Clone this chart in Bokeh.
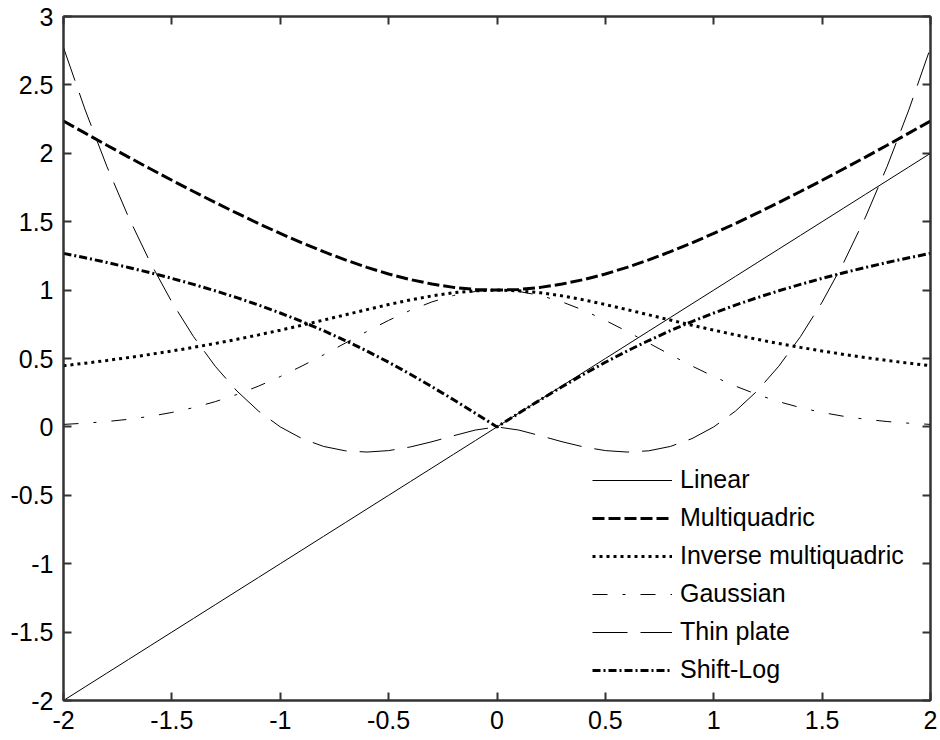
from bokeh.plotting import figure
from bokeh.models import Range1d, FixedTicker, LinearAxis, Legend, LegendItem, CustomJSTickFormatter
from bokeh.embed import file_html
from bokeh.resources import INLINE

x = [-2.0, -1.9, -1.8, -1.7, -1.6, -1.5, -1.4, -1.3, -1.2, -1.1, -1.0,
     -0.9, -0.8, -0.7, -0.6, -0.5, -0.4, -0.3, -0.2, -0.1, 0.0,
     0.1, 0.2, 0.3, 0.4, 0.5, 0.6, 0.7, 0.8, 0.9, 1.0,
     1.1, 1.2, 1.3, 1.4, 1.5, 1.6, 1.7, 1.8, 1.9, 2.0]

linear = [-2.0, -1.9, -1.8, -1.7, -1.6, -1.5, -1.4, -1.3, -1.2, -1.1, -1.0,
          -0.9, -0.8, -0.7, -0.6, -0.5, -0.4, -0.3, -0.2, -0.1, 0.0,
          0.1, 0.2, 0.3, 0.4, 0.5, 0.6, 0.7, 0.8, 0.9, 1.0,
          1.1, 1.2, 1.3, 1.4, 1.5, 1.6, 1.7, 1.8, 1.9, 2.0]

multiquadric = [2.2361, 2.1471, 2.0591, 1.9723, 1.8868, 1.8028, 1.7205, 1.6401, 1.5620, 1.4866, 1.4142,
                1.3454, 1.2806, 1.2207, 1.1662, 1.1180, 1.0770, 1.0440, 1.0198, 1.0050, 1.0000,
                1.0050, 1.0198, 1.0440, 1.0770, 1.1180, 1.1662, 1.2207, 1.2806, 1.3454, 1.4142,
                1.4866, 1.5620, 1.6401, 1.7205, 1.8028, 1.8868, 1.9723, 2.0591, 2.1471, 2.2361]

inverse_mq = [0.4472, 0.4657, 0.4856, 0.5070, 0.5300, 0.5547, 0.5812, 0.6097, 0.6402, 0.6727, 0.7071,
              0.7433, 0.7809, 0.8192, 0.8575, 0.8944, 0.9285, 0.9578, 0.9806, 0.9950, 1.0000,
              0.9950, 0.9806, 0.9578, 0.9285, 0.8944, 0.8575, 0.8192, 0.7809, 0.7433, 0.7071,
              0.6727, 0.6402, 0.6097, 0.5812, 0.5547, 0.5300, 0.5070, 0.4856, 0.4657, 0.4472]

gaussian = [0.0183, 0.0271, 0.0392, 0.0556, 0.0773, 0.1054, 0.1409, 0.1845, 0.2369, 0.2982, 0.3679,
            0.4449, 0.5273, 0.6126, 0.6977, 0.7788, 0.8521, 0.9139, 0.9608, 0.9900, 1.0000,
            0.9900, 0.9608, 0.9139, 0.8521, 0.7788, 0.6977, 0.6126, 0.5273, 0.4449, 0.3679,
            0.2982, 0.2369, 0.1845, 0.1409, 0.1054, 0.0773, 0.0556, 0.0392, 0.0271, 0.0183]

thin_plate = [2.7726, 2.3171, 1.9044, 1.5335, 1.2032, 0.9123, 0.6595, 0.4434, 0.2625, 0.1153, 0.0,
              -0.0853, -0.1428, -0.1748, -0.1839, -0.1733, -0.1466, -0.1084, -0.0644, -0.0230, 0.0,
              -0.0230, -0.0644, -0.1084, -0.1466, -0.1733, -0.1839, -0.1748, -0.1428, -0.0853, 0.0,
              0.1153, 0.2625, 0.4434, 0.6595, 0.9123, 1.2032, 1.5335, 1.9044, 2.3171, 2.7726]

shift_log = [1.2686, 1.2362, 1.2019, 1.1655, 1.1268, 1.0857, 1.0417, 0.9948, 0.9445, 0.8905, 0.8326,
             0.7703, 0.7034, 0.6315, 0.5545, 0.4724, 0.3853, 0.2936, 0.1980, 0.0998, 0.0,
             0.0998, 0.1980, 0.2936, 0.3853, 0.4724, 0.5545, 0.6315, 0.7034, 0.7703, 0.8326,
             0.8905, 0.9445, 0.9948, 1.0417, 1.0857, 1.1268, 1.1655, 1.2019, 1.2362, 1.2686]

series_names = ["Linear", "Multiquadric", "Inverse multiquadric", "Gaussian", "Thin plate", "Shift-Log"]
x_ticks = [-2, -1.5, -1, -0.5, 0, 0.5, 1, 1.5, 2]
y_ticks = [-2, -1.5, -1, -0.5, 0, 0.5, 1, 1.5, 2, 2.5, 3]

FONT = "Liberation Sans"
AX = "#333333"

p = figure(width=940, height=740, output_backend="svg", toolbar_location=None,
           x_range=Range1d(-2, 2), y_range=Range1d(-2, 3),
           min_border_left=63, min_border_right=10, min_border_top=16, min_border_bottom=40)
p.xgrid.visible = False
p.ygrid.visible = False
p.outline_line_color = AX
p.outline_line_width = 2
p.background_fill_color = "white"
p.border_fill_color = "white"

fmt = CustomJSTickFormatter(code="return String(tick);")
for ax in (p.xaxis[0], p.yaxis[0]):
    ax.formatter = fmt
    ax.major_label_text_font = FONT
    ax.major_label_text_font_size = "25px"
    ax.major_label_text_color = "black"
    ax.axis_line_color = AX
    ax.axis_line_width = 2
    ax.major_tick_line_color = AX
    ax.major_tick_line_width = 2
    ax.major_tick_in = 8
    ax.major_tick_out = 0
    ax.minor_tick_line_color = None
p.xaxis[0].ticker = FixedTicker(ticks=x_ticks)
p.yaxis[0].ticker = FixedTicker(ticks=y_ticks)
p.xaxis[0].major_label_standoff = 10
p.yaxis[0].major_label_standoff = 10

blank = CustomJSTickFormatter(code="return '';")
top = LinearAxis(ticker=FixedTicker(ticks=x_ticks), formatter=blank)
right = LinearAxis(ticker=FixedTicker(ticks=y_ticks), formatter=blank)
for ax in (top, right):
    ax.major_label_standoff = 0
    ax.axis_line_color = AX
    ax.axis_line_width = 2
    ax.major_tick_line_color = AX
    ax.major_tick_line_width = 2
    ax.major_tick_in = 8
    ax.major_tick_out = 0
    ax.minor_tick_line_color = None
p.add_layout(top, "above")
p.add_layout(right, "right")

r_lin = p.line(x, linear, line_color="black", line_width=1)
r_mq = p.line(x, multiquadric, line_color="black", line_width=3, line_dash="12 4")
r_imq = p.line(x, inverse_mq, line_color="black", line_width=3, line_dash="3 4")
r_g = p.line(x, gaussian, line_color="black", line_width=1, line_dash="15 15 3 15")
r_tp = p.line(x, thin_plate, line_color="black", line_width=1, line_dash="35 13")
r_sl = p.line(x, shift_log, line_color="black", line_width=3, line_dash="8 3 2 3")

renderers = [r_lin, r_mq, r_imq, r_g, r_tp, r_sl]
legend = Legend(items=[LegendItem(label=n, renderers=[r]) for n, r in zip(series_names, renderers)],
                location=(529, 16), orientation="vertical",
                border_line_alpha=0, background_fill_alpha=0,
                padding=0, margin=0, spacing=9,
                glyph_width=80, glyph_height=24, label_height=24, label_standoff=8,
                label_text_font=FONT, label_text_font_size="25px", label_text_color="black")
p.add_layout(legend, "center")

open("out.html", "w").write(file_html(p, INLINE))
